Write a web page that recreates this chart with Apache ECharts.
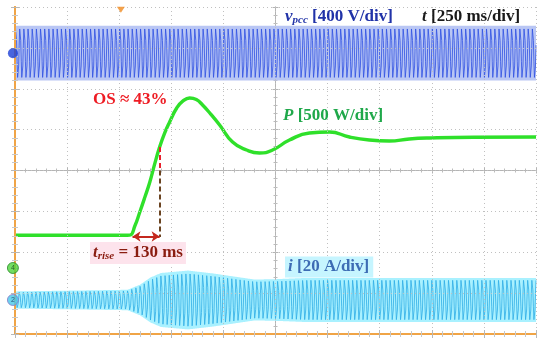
<!DOCTYPE html>
<html><head><meta charset="utf-8">
<script src="https://cdn.jsdelivr.net/npm/echarts@6/dist/echarts.min.js"></script>
<style>html,body{margin:0;padding:0;background:#fff}#c{width:550px;height:349px}</style>
</head><body><div id="c"></div>
<script>
// ---- time base: 10 div x 250 ms/div ----
const timeMin = 0, timeMax = 2500, timeDiv = 250;
const gridFreqHz = 50;
// ---- channel settings (scale per div, zero-marker position in div from bottom) ----
const vScale = 400, vOffset = 6.87;
const pScale = 500, pOffset = 1.615;
const iScale = 20, iOffset = 0.832;
// ---- v_pcc envelope (peak V) ----
const vEnvTime = [0, 2500];
const vEnvAmp  = [268, 268];
// ---- P trace (W) ----
const pTime = [0, 300, 520, 551, 575, 599, 623, 647, 670, 694, 718, 742, 776, 805, 838, 870, 900, 940, 982, 1044, 1111, 1173, 1236, 1317, 1413, 1509, 1605, 1700, 1796, 1892, 1987, 2200, 2500];
const pWatt = [400, 400, 400, 402, 513, 685, 865, 1052, 1270, 1480, 1650, 1786, 1957, 2040, 2079, 2060, 1994, 1880, 1749, 1541, 1443, 1406, 1443, 1565, 1651, 1663, 1602, 1565, 1553, 1578, 1590, 1600, 1602];
// ---- current envelope (peak A) ----
const iEnvTime = [0, 540, 600, 650, 700, 830, 950, 1050, 1150, 1250, 1400, 2500];
const iEnvAmp  = [4.2, 5.0, 7.5, 11, 13.2, 14.4, 13.0, 11.5, 10.0, 10.2, 10.8, 10.8];
// ---- annotations ----
const pBase = 400, pSteady = 1600;
const riseStart = 564, riseEnd = 694;   // ms (10 % .. 90 %)
const triggerTime = 508;
const markerTime = -10;

function envAt(ts, as, t) {
  for (let k = 1; k < ts.length; k++) {
    if (t <= ts[k]) { const f = (t - ts[k-1]) / (ts[k] - ts[k-1]); return as[k-1] + f * (as[k] - as[k-1]); }
  }
  return as[as.length - 1];
}
function acTrace(ts, as, scale, offset, phase) {
  const line = [], up = [], low = [];
  const step = 1000 / gridFreqHz / 8;
  for (let t = timeMin; t <= timeMax + 1e-6; t += step) {
    const a = envAt(ts, as, t) / scale;
    line.push([t, offset + a * Math.sin(2 * Math.PI * gridFreqHz * t / 1000 + phase)]);
    up.push([t, offset + a]);
    low.push([t, offset - a]);
  }
  return { line, up, low };
}
const V = acTrace(vEnvTime, vEnvAmp, vScale, vOffset, 0.3);
const I = acTrace(iEnvTime, iEnvAmp, iScale, iOffset, 1.1);
const P = pTime.map((t, k) => [t, pOffset + pWatt[k] / pScale]);
const baseDiv = pOffset + pBase / pScale;
const p90Div = pOffset + (pBase + 0.9 * (pSteady - pBase)) / pScale;

function bandSeries(tr, fill) {
  return {
    type: 'custom', silent: true, data: [[0, 0]], z: 1,
    renderItem: (params, api) => {
      const pts = tr.up.map(p => api.coord(p)).concat(tr.low.slice().reverse().map(p => api.coord(p)));
      return { type: 'polygon', shape: { points: pts }, style: { fill } };
    }
  };
}

const orange = '#f0a446', olive = '#c9b650';
function frameAxis(pos, color) {
  const isX = pos === 'top' || pos === 'bottom';
  return {
    type: 'value', min: isX ? timeMin : 0, max: isX ? timeMax : 8, interval: isX ? timeDiv : 1,
    position: pos, z: 5,
    axisLine: { show: true, lineStyle: { color, width: 2 } },
    axisTick: { show: true, inside: true, length: 4, lineStyle: { color: '#b8b8b8' } },
    minorTick: { show: true, splitNumber: 5, length: 3, lineStyle: { color: '#c8c8c8' } },
    axisLabel: { show: false },
    splitLine: { show: pos === 'bottom' || pos === 'left', lineStyle: { color: '#c0c0c0', type: [1, 3], width: 1 } }
  };
}
function centerAxis(isX, inside) {
  return {
    type: 'value', min: isX ? timeMin : 0, max: isX ? timeMax : 8, interval: isX ? timeDiv : 1,
    position: isX ? 'bottom' : 'left', offset: isX ? -163.5 : -260.5, z: 0,
    axisLine: { show: true, lineStyle: { color: '#b4b4b4', width: 1 } },
    axisTick: { show: true, inside, length: 3, lineStyle: { color: '#b4b4b4' } },
    minorTick: { show: true, splitNumber: 5, length: 2, lineStyle: { color: '#bcbcbc' } },
    axisLabel: { show: false }, splitLine: { show: false }
  };
}
const serif = '"Liberation Serif", "DejaVu Serif", serif';
const chart = echarts.init(document.getElementById('c'), null, { renderer: 'canvas' });
chart.setOption({
  animation: false,
  backgroundColor: '#fff',
  grid: { left: 15, right: 14, top: 7, bottom: 15 },
  xAxis: [frameAxis('bottom', olive), frameAxis('top', orange), centerAxis(true, true), centerAxis(true, false)],
  yAxis: [frameAxis('left', orange), frameAxis('right', orange), centerAxis(false, true), centerAxis(false, false)],
  series: [
    bandSeries(V, '#b9c6f4'),
    { type: 'line', data: V.line, showSymbol: false, lineStyle: { color: '#2f50e2', width: 0.8 }, silent: true, z: 2 },
    bandSeries(I, '#a9f1ff'),
    { type: 'line', data: I.line, showSymbol: false, lineStyle: { color: '#30ade6', width: 0.8 }, silent: true, z: 2 },
    { type: 'line', data: P, showSymbol: false, smooth: 0.5, z: 3,
      lineStyle: { color: '#2fe02a', width: 3.4 }, silent: true,
      markLine: { silent: true, symbol: ['none', 'none'], label: { show: false },
        data: [
          [{ coord: [riseEnd, p90Div], lineStyle: { color: '#e8202c', type: [5, 3], width: 2 } }, { coord: [riseEnd, 4] }],
          [{ coord: [riseEnd, 4], lineStyle: { color: '#6a4320', type: [5, 3], width: 2 } }, { coord: [riseEnd, baseDiv - 0.04] }],
          [{ coord: [riseStart, baseDiv - 0.03], symbol: 'arrow', symbolSize: 8, lineStyle: { color: '#c4281e', type: 'solid', width: 2 } },
           { coord: [riseEnd, baseDiv - 0.03], symbol: 'arrow', symbolSize: 8 }]
        ] } },
    { type: 'scatter', clip: false, silent: true, z: 6, symbol: 'circle', symbolSize: 10, data: [[markerTime, vOffset]], itemStyle: { color: '#1c3fd6' } },
    { type: 'scatter', clip: false, silent: true, z: 6, symbol: 'circle', symbolSize: 11, data: [[markerTime, pOffset]],
      itemStyle: { color: '#4fd43c', borderColor: '#2a8a2a', borderWidth: 1 },
      label: { show: true, position: 'inside', formatter: '4', fontSize: 7, color: '#1a4a1a' } },
    { type: 'scatter', clip: false, silent: true, z: 6, symbol: 'circle', symbolSize: 11, data: [[markerTime, iOffset]],
      itemStyle: { color: '#46c8ea', borderColor: '#8a7ac8', borderWidth: 1 },
      label: { show: true, position: 'inside', formatter: '2', fontSize: 7, color: '#1a3a5a' } },
    { type: 'scatter', clip: false, silent: true, z: 6, symbol: 'triangle', symbolRotate: 180, symbolSize: [8, 6], data: [[triggerTime, 7.93]], itemStyle: { color: '#f08a1e' } }
  ],
  graphic: [
    { type: 'text', x: 285, y: 17, z: 100, style: { text: '{v|v}{s|pcc}{n| [400 V/div]}', verticalAlign: 'middle', align: 'left',
      rich: { v: { fontFamily: serif, fontSize: 17, fontWeight: 'bold', fontStyle: 'italic', fill: '#2133a8' },
              s: { fontFamily: serif, fontSize: 11, fontWeight: 'bold', fontStyle: 'italic', fill: '#2133a8', padding: [7, 0, 0, 0] },
              n: { fontFamily: serif, fontSize: 17, fontWeight: 'bold', fill: '#2133a8' } } } },
    { type: 'text', x: 422, y: 17, z: 100, style: { text: '{t|t}{n| [250 ms/div]}', verticalAlign: 'middle', align: 'left',
      rich: { t: { fontFamily: serif, fontSize: 17, fontWeight: 'bold', fontStyle: 'italic', fill: '#1a1a1a' },
              n: { fontFamily: serif, fontSize: 17, fontWeight: 'bold', fill: '#1a1a1a' } } } },
    { type: 'text', x: 93, y: 100, z: 100, style: { text: 'OS ≈ 43%', verticalAlign: 'middle', align: 'left',
      fontFamily: serif, fontSize: 17, fontWeight: 'bold', fill: '#ee1c24' } },
    { type: 'text', x: 283, y: 116, z: 100, style: { text: '{p|P}{n| [500 W/div]}', verticalAlign: 'middle', align: 'left',
      rich: { p: { fontFamily: serif, fontSize: 17, fontWeight: 'bold', fontStyle: 'italic', fill: '#1fa84a' },
              n: { fontFamily: serif, fontSize: 17, fontWeight: 'bold', fill: '#1fa84a' } } } },
    { type: 'text', x: 90, y: 253, z: 100, style: { text: '{t|t}{s|rise}{n| = 130 ms}', verticalAlign: 'middle', align: 'left',
      backgroundColor: '#fde3ec', padding: [2, 3, 2, 3],
      rich: { t: { fontFamily: serif, fontSize: 17, fontWeight: 'bold', fontStyle: 'italic', fill: '#8a1c10' },
              s: { fontFamily: serif, fontSize: 11, fontWeight: 'bold', fontStyle: 'italic', fill: '#8a1c10', padding: [7, 0, 0, 0] },
              n: { fontFamily: serif, fontSize: 17, fontWeight: 'bold', fill: '#8a1c10' } } } },
    { type: 'text', x: 285, y: 267, z: 100, style: { text: '{i|i}{n| [20 A/div]}', verticalAlign: 'middle', align: 'left',
      backgroundColor: '#c6f5ff', padding: [2, 4, 2, 3],
      rich: { i: { fontFamily: serif, fontSize: 17, fontWeight: 'bold', fontStyle: 'italic', fill: '#3d6cb4' },
              n: { fontFamily: serif, fontSize: 17, fontWeight: 'bold', fill: '#3d6cb4' } } } }
  ]
});
</script></body></html>
